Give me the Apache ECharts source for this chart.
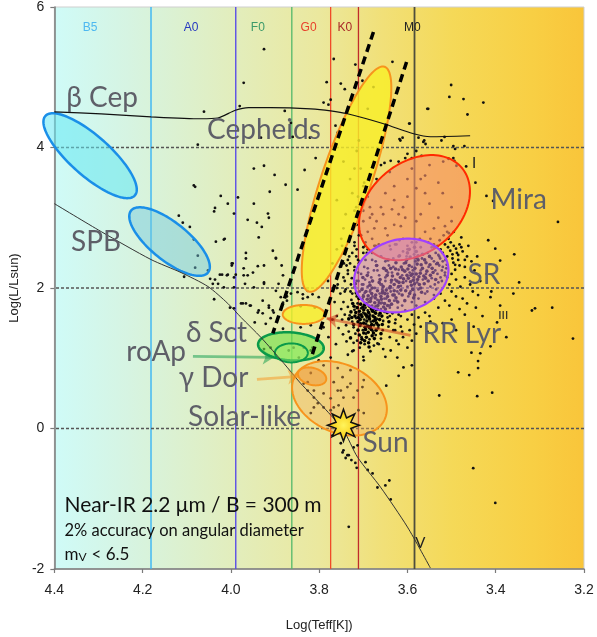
<!DOCTYPE html>
<html><head><meta charset="utf-8">
<script src="https://cdn.jsdelivr.net/npm/echarts/dist/echarts.min.js"></script>
<style>html,body{margin:0;padding:0;background:#fff}#c{width:597px;height:637px}</style>
</head><body><div id="c"></div>
<script>
// ---------------- data ----------------
const xTicks = [3.2, 3.4, 3.6, 3.8, 4.0, 4.2, 4.4];
const yTicks = [-2, 0, 2, 4, 6];
const spectralClasses = ['B5','A0','F0','G0','K0','M0'];
const spectralLabelT = [4.319, 4.090, 3.939, 3.824, 3.742, 3.589];
const spectralLabelL = 5.70;
const spectralLineT = [4.181, 3.989, 3.862, 3.774, 3.711, 3.584];
const guideL = [4, 2, 0];

const upperCurveT = [4.4, 4.294, 4.181, 4.068, 4.030, 3.990, 3.960, 3.910, 3.819, 3.774, 3.736, 3.654, 3.586, 3.548, 3.458];
const upperCurveL = [4.508, 4.480, 4.437, 4.409, 4.420, 4.530, 4.568, 4.568, 4.551, 4.522, 4.480, 4.338, 4.196, 4.153, 4.167];
const zamsT = [4.4, 4.294, 4.181, 4.113, 4.052, 4.007, 3.977, 3.932, 3.880, 3.842, 3.790, 3.745, 3.713, 3.661, 3.600, 3.548];
const zamsL = [3.201, 2.803, 2.405, 2.220, 2.021, 1.780, 1.581, 1.297, 0.927, 0.643, 0.302, -0.025, -0.409, -0.835, -1.403, -1.986];

const stripBlueEdge = [[3.677, 5.645], [3.905, 1.354]];
const stripRedEdge = [[3.602, 5.218], [3.817, 1.027]];

// ellipses: [centre logT, centre logL, semi-major (logT units), semi-minor (logT units), tilt deg]
const ellipseNames = ['Cepheids','betaCep','SPB','Mira','SR','RRLyr','SolarLike','gammaDor','deltaSct','roAp'];
const ellipseCenterT = [3.738, 4.319, 4.139, 3.584, 3.614, 3.835, 3.754, 3.816, 3.864, 3.863];
const ellipseCenterL = [3.549, 3.883, 2.661, 3.144, 2.178, 1.624, 0.430, 0.742, 1.169, 1.076];
const ellipseMajor = [0.2689, 0.1356, 0.1119, 0.1401, 0.1085, 0.0475, 0.1130, 0.0328, 0.0746, 0.0373];
const ellipseMinor = [0.0565, 0.0452, 0.0429, 0.1017, 0.0814, 0.0215, 0.0768, 0.0192, 0.0316, 0.0215];
const ellipseTilt = [-71.3, 41.6, 38.8, -40, -15, 0, 25, 15, 4, 0];

const sunPos = [3.745, 0.046];

const arrowRRLyr = [[3.593, 1.325], [3.783, 1.566]];
const arrowRoAp = [[4.086, 1.027], [3.903, 1.012]];
const arrowGammaDor = [[3.941, 0.700], [3.846, 0.742]];

const regionLabels = ['β Cep','Cepheids','SPB','Mira','SR','RR Lyr','δ Sct','roAp','γ Dor','Solar-like','Sun'];
const regionLabelT = [4.373, 4.054, 4.362, 3.412, 3.464, 3.566, 4.102, 4.237, 4.118, 4.097, 3.702];
const regionLabelL = [4.707, 4.252, 2.661, 3.258, 2.192, 1.339, 1.353, 1.083, 0.714, 0.160, -0.209];

const classLabels = ['I', 'III', 'V'];
const classLabelT = [3.449, 3.383, 3.571];
const classLabelL = [3.783, 1.609, -1.63];

const notes = ['Near-IR 2.2 μm / B = 300 m', '2% accuracy on angular diameter', 'mV < 6.5'];
const noteT = [4.377, 4.377, 4.377];
const noteL = [-1.091, -1.460, -1.787];

// stars (logT, logL)
const upperFieldStars = [[3.925,5.40],[3.971,4.92],[3.980,4.59],[4.061,4.51],[3.878,4.52],[3.783,4.93],[3.767,5.26],[3.718,5.18],[3.634,5.22],[3.677,4.86],[3.790,4.64],[3.779,4.61],[3.774,4.68],[3.751,4.91],[3.742,4.83],[3.553,4.55],[3.596,4.34],[3.864,4.35],[3.808,3.85],[3.821,4.14],[3.860,4.15],[3.611,4.14],[3.600,3.91],[3.575,4.14],[3.564,4.08],[3.932,4.14],[3.763,4.31],[3.758,4.21],[3.616,4.10],
[3.501,4.89],[3.505,4.72],[3.473,4.69],[3.428,4.64],[3.464,4.47],[3.555,4.55],[3.595,4.34],[3.618,4.12],[3.562,4.10],[3.559,4.05],[3.523,4.10],[3.516,4.15],[3.496,4.02],[3.492,3.98],[3.471,4.02],[3.580,3.95],[3.568,3.88],[3.652,3.78],[3.638,3.81],[3.496,3.85],[3.494,3.81],[3.467,3.73],[3.446,3.50],[3.421,3.31],[3.406,3.24],[3.605,3.85],[3.489,3.74],[3.519,3.80],[3.507,3.84],
[3.925,3.74],[3.948,3.70],[3.901,3.61],[3.876,3.47],[3.912,3.37],[3.849,3.40],[3.833,3.68],[4.007,3.20],[3.984,3.29],[3.948,3.20],[3.993,3.06],[3.916,3.06],[3.914,3.00],[3.962,2.97],[3.941,2.93],[3.930,2.87],[4.014,2.70],[3.937,2.72],[3.966,2.50],[3.966,2.42],[3.905,2.53],[3.898,2.43],[3.996,2.35],[3.939,2.31],[3.925,2.32],[3.950,2.22],[4.009,2.18],[3.971,2.18],[3.925,2.08],[3.892,2.06],[3.948,2.01],[4.075,4.04],[4.084,3.46]];

const subgiantStars = [[3.977,1.78],[3.966,1.78],[3.957,1.75],[3.939,1.65],[3.928,1.64],[3.914,1.75],[3.905,1.68],[3.887,1.87],[3.873,1.82],[3.849,1.94],[3.837,1.91],[3.826,1.87],[3.815,1.91],[3.810,1.72],[3.842,1.74],
[4.081,3.44],[4.023,3.31],[4.036,3.14],[4.038,3.09],[4.118,3.03],[4.109,2.93],[4.093,2.87],[4.084,2.69],[4.034,2.66],[4.016,2.69],[4.075,2.46],[4.081,2.29],[4.052,2.25],[4.025,2.19],[4.007,2.19],[3.998,2.35],[4.047,2.13],[4.036,2.12],[4.029,2.06],[4.106,2.16],[3.989,2.19],[4.038,1.84],[4.002,1.72],[3.993,1.71],[4.016,2.01],[3.993,2.01],
[3.998,2.32],[3.993,2.15],[4.041,2.06],[4.020,2.19],[3.971,2.28],[3.962,2.18],[3.968,2.06],[3.925,2.06],[3.898,2.42],[3.885,2.32],[3.882,2.18],[3.898,1.96],[3.973,1.78],[3.955,1.75],[3.937,1.68],[3.928,1.82],[3.914,1.72],[3.903,1.65],[3.882,1.79],[3.873,1.88],[3.864,1.92],[3.837,1.85],[3.826,1.96],[3.801,1.87],[3.946,1.51],[3.921,1.49],[3.910,1.57],[3.882,1.42],[3.842,1.44],[3.819,1.47],[3.790,1.44],[3.779,1.30],[3.803,1.30],[3.790,1.14],[3.774,1.01],[3.801,0.97],[3.819,1.11],[3.835,1.15],[3.910,1.15],[3.925,1.13],[3.869,1.11],[3.858,1.15],[3.846,1.01],[3.815,1.15]];

const mainSequenceStars = [[3.835,0.64],[3.826,0.54],[3.812,0.44],[3.803,0.36],[3.790,0.30],[3.774,0.26],[3.756,0.33],[3.745,0.44],[3.758,0.54],[3.767,0.66],[3.747,0.73],[3.729,0.64],[3.713,0.54],[3.699,0.69],[3.729,0.83],[3.758,0.86],[3.790,0.90],[3.819,0.79],[3.826,0.66],
[3.812,0.54],[3.790,0.50],[3.774,0.43],[3.767,0.30],[3.751,0.54],[3.736,0.59],[3.722,0.44],[3.711,0.26],[3.699,0.22],[3.702,0.59],[3.668,0.50],[3.812,0.30],[3.819,0.22],
[3.770,-0.10],[3.751,-0.21],[3.745,-0.31],[3.736,-0.38],[3.740,-0.42],[3.727,-0.45],[3.718,-0.49],[3.715,-0.56],[3.695,-0.48],[3.690,-0.59],[3.713,-0.24],[3.638,-1.01],[3.668,-0.84],[3.679,-0.64],[3.650,-0.81],[3.641,-0.74],[3.747,-0.34],[3.733,-0.38],[3.722,-0.27],[3.733,-1.40],
[3.722,1.11],[3.699,0.97],[3.668,1.21],[3.638,1.11],[3.623,1.01],[3.609,0.87],[3.648,0.61],[3.620,0.75],[3.590,0.90]];

const cepheidStripStars = [[3.745,3.80],[3.730,3.55],[3.760,3.25],[3.740,3.05],[3.725,3.35],[3.745,2.85],[3.760,2.55],[3.735,2.40],[3.720,3.70],[3.710,4.10],[3.690,4.55],[3.702,4.95],[3.715,3.95],[3.750,2.70],[3.770,2.35],[3.780,2.10],[3.760,2.00],[3.705,2.75],[3.715,2.90],[3.700,3.10],[3.712,3.30],[3.698,3.50],[3.720,2.65],[3.706,3.70],[3.695,2.60],[3.716,3.15],[3.690,2.80],[3.685,3.00],[3.725,2.50],
[3.735,2.20],[3.728,2.05],[3.742,1.95],[3.720,2.30],[3.732,2.45],[3.715,2.55],[3.745,2.15],[3.725,1.92],[3.738,2.32],[3.712,2.40]];

const giantClumpStars = [[3.690,1.68],[3.695,1.72],[3.685,1.62],[3.700,1.65],[3.680,1.75],[3.692,1.58],[3.705,1.71],[3.688,1.80],[3.675,1.66],[3.698,1.55],[3.710,1.62],[3.683,1.52],[3.672,1.74],[3.702,1.84],[3.694,1.49],[3.679,1.88],[3.716,1.57],[3.665,1.61],[3.707,1.46],[3.687,1.43],[3.720,1.69],[3.668,1.83],[3.697,1.93],[3.676,1.47],[3.713,1.78],[3.660,1.70],[3.684,1.97],[3.701,1.40],[3.725,1.52],[3.669,1.56],[3.690,2.02],[3.658,1.79],[3.715,1.88],[3.679,1.39],[3.731,1.61],[3.708,1.95],[3.663,1.92],[3.694,1.35],[3.722,1.44],[3.652,1.66],[3.686,2.08],[3.674,2.00],[3.735,1.73],[3.655,1.53],[3.703,2.05],[3.718,1.35],[3.666,1.43],[3.727,1.83],[3.648,1.85],[3.696,2.12],[3.682,2.15],[3.739,1.47],[3.661,2.05],[3.711,2.10],[3.645,1.58],[3.672,1.33],[3.729,1.95],[3.657,1.98],[3.704,1.30],[3.689,2.22],[3.742,1.62],[3.650,2.10],[3.719,2.02],[3.676,2.25],[3.733,1.38],[3.640,1.72],[3.664,2.18],[3.698,2.30],[3.745,1.80],[3.638,1.95],[3.712,2.22],[3.726,2.14],[3.686,1.27],[3.656,1.40],[3.740,1.98],[3.643,1.45],[3.669,2.32],[3.714,1.25],[3.634,1.64],[3.748,1.55],[3.707,2.38],[3.680,2.40],[3.735,2.25],[3.652,2.28],[3.722,1.22],[3.630,1.82],[3.697,1.20],[3.742,2.10],[3.660,1.28],[3.750,1.70],[3.627,1.55],[3.716,2.45],[3.676,1.18],[3.746,1.34],[3.637,2.08],[3.692,2.50],[3.730,2.35],[3.644,2.22],[3.752,1.92],[3.622,1.72],[3.665,1.20],[3.708,1.15],[3.738,1.24],[3.628,1.40],[3.756,1.43],[3.684,1.10],[3.655,1.13],[3.725,1.10],[3.619,1.92],[3.640,1.30],[3.744,2.35],[3.700,2.58],[3.760,1.60],[3.672,2.60],[3.615,1.60],[3.735,1.05],[3.700,1.02],[3.650,1.02],[3.612,1.38],[3.625,1.25],[3.762,1.20],[3.770,1.55],[3.765,1.80],[3.758,2.05],[3.753,2.30],[3.748,2.60],
[3.640,1.60],[3.628,1.50],[3.615,1.45],[3.600,1.55],[3.590,1.62],[3.605,1.68],[3.575,1.58],[3.585,1.48],[3.560,1.65],[3.620,1.62],[3.632,1.40],[3.595,1.40],[3.570,1.45],[3.548,1.52],[3.610,1.30],[3.580,1.35],[3.555,1.38],[3.620,1.20],[3.600,1.15],[3.590,1.25]];

const clumpCoreStars = [[3.688,1.65],[3.693,1.61],[3.682,1.70],[3.697,1.76],[3.686,1.56],[3.678,1.60],[3.703,1.59],[3.691,1.84],[3.674,1.79],[3.709,1.67],[3.684,1.45],[3.699,1.50],[3.670,1.69],[3.712,1.52],[3.677,1.53],[3.695,1.41],[3.681,1.92],[3.706,1.77],[3.667,1.75],[3.719,1.60],[3.673,1.86],[3.700,1.88],[3.689,1.37],[3.662,1.64],[3.714,1.72],[3.680,1.32],[3.703,1.98],[3.659,1.84],[3.722,1.48],[3.670,1.50],[3.693,1.30],[3.685,2.04],[3.712,1.40],[3.654,1.73],[3.728,1.66],[3.668,1.96],[3.697,1.25],[3.675,1.28],[3.709,1.33],[3.657,1.48],[3.716,1.93],[3.664,2.08],[3.733,1.56],[3.646,1.65],[3.691,2.18],[3.679,2.10],[3.701,2.15],[3.718,2.06],[3.651,1.92],[3.636,1.77],[3.724,1.78],[3.642,1.52],[3.660,1.35],[3.729,1.29],[3.706,1.22],[3.687,1.16],[3.671,1.40],[3.683,1.85],[3.694,1.78],[3.676,1.71],[3.663,1.55],[3.707,1.55],[3.699,1.69],[3.690,1.46],[3.674,1.58],[3.705,1.62],[3.686,1.74],[3.672,1.64],[3.696,1.63],[3.681,1.48],
[3.687,1.59],[3.692,1.53],[3.679,1.67],[3.701,1.73],[3.684,1.81],[3.696,1.44],[3.673,1.54],[3.706,1.49],[3.689,1.89],[3.668,1.70],[3.711,1.58],[3.677,1.36],[3.699,1.36],[3.664,1.79],[3.717,1.65],[3.682,1.41],[3.694,1.95],[3.658,1.60],[3.721,1.74],[3.672,1.90],[3.703,1.27],[3.652,1.78],[3.726,1.58],[3.666,1.47],[3.688,1.22],[3.710,1.85],[3.650,1.70],[3.680,2.00],[3.645,1.88],[3.657,1.93],
[3.641,1.82],[3.633,1.90],[3.648,1.97],[3.626,1.86],[3.639,2.02],[3.655,2.02],[3.630,1.96],[3.645,1.75],[3.622,1.80],[3.660,1.88]];

const srStars = [[3.586,2.15],[3.595,2.22],[3.578,2.08],[3.603,2.10],[3.570,2.25],[3.590,2.30],[3.612,2.18],[3.565,2.12],[3.600,2.02],[3.582,2.38],[3.620,2.26],[3.558,2.20],[3.575,1.98],[3.608,2.35],[3.628,2.12],[3.552,2.30],[3.593,1.95],[3.635,2.22],[3.567,2.42],[3.615,2.03],[3.545,2.14],[3.642,2.32],[3.585,2.48],[3.623,1.95],[3.560,1.92],[3.650,2.15],[3.540,2.38],[3.598,1.88],[3.632,2.42],[3.575,1.85],[3.658,2.05],[3.548,2.02],[3.610,2.52],[3.668,2.25],[3.537,2.25],[3.645,1.92],[3.590,1.80],[3.672,2.38],[3.555,2.50],[3.625,1.82],[3.680,2.10],[3.530,2.08],[3.660,2.45],[3.600,2.60],[3.685,1.95],[3.528,2.45],[3.652,1.85],[3.570,2.58],[3.690,2.28],[3.540,1.90],[3.695,2.40],[3.612,1.75],[3.638,2.55],[3.700,2.05],[3.520,2.30],[3.665,1.82],[3.580,1.75],[3.705,2.20],[3.525,2.15],[3.680,2.50],[3.560,1.80],[3.710,2.35],[3.628,2.62],[3.545,2.58],[3.700,1.90],[3.515,2.22],[3.640,1.75],[3.590,2.65],[3.715,2.10],[3.553,2.65],[3.675,2.60],[3.535,1.98],[3.660,1.78],[3.618,2.68],[3.720,2.25],[3.572,2.70],[3.602,2.45],[3.588,2.25],[3.632,2.30],[3.650,2.38]];

const srCoreStars = [[3.592,2.18],[3.580,2.20],[3.598,2.14],[3.574,2.16],[3.606,2.24],[3.584,2.06],[3.596,2.32],[3.566,2.28],[3.610,2.08],[3.578,2.34],[3.616,2.15],[3.562,2.06],[3.588,1.98],[3.602,2.40],[3.622,2.20],[3.556,2.24],[3.570,2.00],[3.594,2.44],[3.630,2.05],[3.548,2.18],[3.612,1.90],[3.576,2.46],[3.638,2.28],[3.558,2.36],[3.584,1.90],[3.626,2.36],[3.544,2.28],[3.604,1.96],[3.646,2.18],[3.568,1.94],[3.618,2.46],[3.536,2.12],[3.654,2.28],[3.596,2.55],[3.550,2.45],[3.640,2.00],[3.580,2.52],[3.662,2.12],[3.532,2.35],[3.606,1.82],[3.587,2.11],[3.599,2.27],[3.571,2.21],[3.609,2.13],[3.583,2.28],[3.563,2.17],[3.614,2.30],[3.591,2.04],[3.576,2.40],[3.624,2.10],[3.553,2.10],[3.634,2.17],[3.600,2.50],[3.566,2.48],[3.644,2.40],[3.620,2.02],[3.586,1.86],[3.670,2.32],[3.542,2.22],[3.656,1.95],
[3.589,2.20],[3.577,2.12],[3.601,2.18],[3.569,2.33],[3.611,2.26],[3.593,2.09],[3.581,2.43],[3.619,2.08],[3.559,2.14],[3.627,2.27],[3.604,2.36],[3.573,2.05],[3.636,2.11],[3.549,2.33],[3.615,1.97],[3.595,1.92],[3.648,2.25],[3.561,2.40],[3.630,1.90],[3.584,2.58]];

const miraStars = [[3.62,3.05],[3.65,2.85],[3.60,3.30],[3.68,2.70],[3.58,2.95],[3.63,3.45],[3.70,2.95],[3.55,3.20],[3.66,3.15],[3.61,2.70],[3.57,3.55],[3.69,3.30],[3.64,2.60],[3.53,3.00],[3.59,3.70],[3.71,2.75],[3.56,2.80],[3.67,3.55],[3.52,3.35],[3.62,3.80],[3.60,2.55],[3.54,2.62],[3.72,3.10],[3.58,3.42],[3.66,2.45],[3.50,3.15],[3.64,3.65],[3.55,3.75],[3.69,2.55],[3.51,2.80],[3.63,2.90],[3.57,3.05],[3.67,2.95],[3.60,3.55],[3.53,3.50],[3.70,3.45],[3.61,3.15],[3.65,3.35],[3.56,3.35],[3.58,2.65],[3.68,3.05],[3.62,2.45],[3.54,2.85],[3.59,3.85],[3.66,3.75],[3.72,2.60],[3.50,2.95],[3.56,3.60],[3.63,3.25],[3.70,2.50],
[3.645,2.75],[3.675,2.85],[3.615,2.88],[3.655,3.05],[3.695,2.65],[3.625,2.62],[3.685,3.15],[3.605,3.00],[3.665,2.62],[3.635,3.12]];

const coolGiantStars = [[3.503,2.53],[3.510,2.45],[3.495,2.60],[3.515,2.62],[3.520,2.38],[3.498,2.42],[3.488,2.50],[3.525,2.55],[3.507,2.70],[3.492,2.33],[3.530,2.47],[3.512,2.28],[3.482,2.62],[3.518,2.75],[3.500,2.20],[3.535,2.34],[3.485,2.40],[3.527,2.68],[3.475,2.52],[3.510,2.15],[3.540,2.58],[3.495,2.80],[3.470,2.30],[3.522,2.10],[3.478,2.72],[3.545,2.42],[3.505,2.05],[3.490,2.12],[3.532,2.20],[3.465,2.45],[3.515,2.88],[3.548,2.70],[3.480,2.02],[3.500,1.95],[3.462,2.60],[3.538,2.05],[3.470,2.15],[3.525,1.92],[3.455,2.38],[3.490,1.88],[3.515,1.82],[3.458,2.05],[3.448,2.25],[3.475,1.85],[3.540,1.85],[3.452,1.95],[3.505,1.75],[3.465,1.78],[3.442,2.45],[3.530,1.72],[3.482,1.70],[3.555,1.95],[3.445,1.72],[3.560,2.15],[3.550,1.60],[3.470,1.62],[3.500,1.55],[3.440,1.90],[3.520,1.50],[3.435,2.10],[3.420,2.20],[3.410,1.95],[3.430,1.60],[3.450,1.45],[3.490,1.40],
[3.508,2.58],[3.498,2.48],[3.514,2.40],[3.502,2.65],[3.520,2.50],[3.490,2.56],[3.526,2.42],[3.496,2.36],[3.511,2.33],[3.485,2.47],[3.532,2.60],[3.506,2.78],[3.478,2.58],[3.522,2.25],[3.492,2.26],[3.536,2.50],[3.470,2.40],[3.515,2.18],[3.482,2.32],[3.528,2.32]];

const coolFieldStars = [[3.225,1.28],[3.455,1.08],[3.435,1.07],[3.440,0.96],[3.440,0.86],[3.485,0.80],[3.460,0.76],[3.528,0.47],[3.442,0.46],[3.408,0.51],[3.412,1.17],[3.451,-0.565],[3.401,-1.06],[3.358,2.48],[3.347,2.08],[3.259,2.94],[3.401,2.56],[3.390,2.39],[3.417,2.68],[3.318,1.68],[3.311,1.71],[3.272,1.72],[3.390,1.75],[3.412,1.87],[3.360,1.92],[3.397,1.51],[3.376,1.30]];

// ---------------- chart ----------------
const chart = echarts.init(document.getElementById('c'), null, {renderer: 'canvas'});
const AXIS_FONT = '"Liberation Sans", Arial, sans-serif';
const LABEL_FONT = 'Lato, "Open Sans", "DejaVu Sans", sans-serif';

const spectralLineColors = ['#38b4f4', '#5a4ee6', '#52b86a', '#f04a28', '#c02c2c', '#4e4e3c'];
const spectralLineWidths = [1.4, 1.4, 1.3, 1.3, 1.3, 1.8];
const spectralLabelColors = ['#4db8f0', '#2638c0', '#3c9a6a', '#e8402a', '#a82828', '#222222'];
const ellipseStyles = [
  {fill: 'rgba(248,238,40,0.82)', stroke: '#f7941d', lw: 2},
  {fill: 'rgba(100,232,242,0.55)', stroke: '#1a8fe8', lw: 2.5},
  {fill: 'rgba(110,200,225,0.45)', stroke: '#1a8fe8', lw: 2.5},
  {fill: 'rgba(245,140,105,0.62)', stroke: '#ff2a00', lw: 2},
  {fill: 'rgba(200,125,210,0.52)', stroke: '#a040ff', lw: 2.2},
  {fill: 'rgba(248,238,40,0.80)', stroke: '#f7941d', lw: 2},
  {fill: 'rgba(246,170,80,0.38)', stroke: '#f7941d', lw: 2},
  {fill: 'rgba(240,150,50,0.50)', stroke: '#f7941d', lw: 2},
  {fill: 'rgba(110,225,70,0.62)', stroke: '#0a9a4a', lw: 2.5},
  {fill: 'rgba(160,240,110,0.45)', stroke: '#0a9a4a', lw: 2}
];

const sparseStars = [].concat(upperFieldStars, subgiantStars, mainSequenceStars, cepheidStripStars,
  giantClumpStars, srStars, miraStars, coolGiantStars, coolFieldStars);
const denseStars = [].concat(clumpCoreStars, srCoreStars);

function pairs(a, b) { return a.map((v, i) => [v, b[i]]); }
const Y_MIN = yTicks[0], Y_MAX = yTicks[yTicks.length - 1];

const option = {
  animation: false,
  backgroundColor: '#fff',
  grid: {
    left: 53, right: 13, top: 6, bottom: 68, show: true,
    borderColor: '#cfcfcf', borderWidth: 1,
    backgroundColor: new echarts.graphic.LinearGradient(0, 0, 1, 0, [
      {offset: 0, color: '#cffbf8'},
      {offset: 0.14, color: '#d6f4e2'},
      {offset: 0.32, color: '#e1eec0'},
      {offset: 0.5, color: '#ebe89e'},
      {offset: 0.62, color: '#f1e078'},
      {offset: 0.75, color: '#f5d958'},
      {offset: 0.9, color: '#f8cf44'},
      {offset: 1, color: '#f9c53a'}
    ])
  },
  xAxis: {
    type: 'value', min: xTicks[0], max: xTicks[xTicks.length - 1], interval: 0.2, inverse: true,
    name: 'Log(Teff[K])', nameLocation: 'middle', nameGap: 50,
    nameTextStyle: {fontSize: 13, color: '#222', fontFamily: AXIS_FONT},
    axisLine: {show: true, onZero: false, lineStyle: {color: '#7a7a7a', width: 1.5}},
    axisTick: {show: true, length: 4, lineStyle: {color: '#7a7a7a', width: 1.2}},
    axisLabel: {fontSize: 14, color: '#222', margin: 14, fontFamily: AXIS_FONT,
      formatter: v => v.toFixed(1)},
    splitLine: {show: false}
  },
  yAxis: {
    type: 'value', min: Y_MIN, max: Y_MAX, interval: 2,
    name: 'Log(L/Lsun)', nameLocation: 'middle', nameGap: 32, nameRotate: 90,
    nameTextStyle: {fontSize: 13, color: '#222', fontFamily: AXIS_FONT},
    axisLine: {show: true, onZero: false, lineStyle: {color: '#7a7a7a', width: 1.5}},
    axisTick: {show: true, length: 4, lineStyle: {color: '#7a7a7a', width: 1.2}},
    axisLabel: {fontSize: 14, color: '#222', margin: 10, fontFamily: AXIS_FONT},
    splitLine: {show: false}
  },
  series: [
    { // spectral class boundaries
      type: 'custom', z: 1, silent: true, data: spectralLineT.map(t => [t]),
      encode: {x: 0},
      renderItem: function (params, api) {
        const i = params.dataIndex;
        const p1 = api.coord([api.value(0), Y_MIN]);
        const p2 = api.coord([api.value(0), Y_MAX]);
        return {type: 'line', shape: {x1: p1[0], y1: p1[1], x2: p2[0], y2: p2[1]},
          style: {stroke: spectralLineColors[i], lineWidth: spectralLineWidths[i]}};
      }
    },
    { // horizontal guides
      type: 'custom', z: 1, silent: true, data: guideL.map(l => [l]),
      encode: {y: 0},
      renderItem: function (params, api) {
        const l = api.value(0);
        const p1 = api.coord([xTicks[0], l]);
        const p2 = api.coord([xTicks[xTicks.length - 1], l]);
        return {type: 'line', shape: {x1: p1[0], y1: p1[1], x2: p2[0], y2: p2[1]},
          style: {stroke: '#555', lineWidth: 1.3, lineDash: [3, 2]}};
      }
    },
    {
      type: 'scatter', z: 2, silent: true, data: sparseStars,
      symbolSize: 2.8, itemStyle: {color: '#111', opacity: 1}
    },
    {
      type: 'scatter', z: 2, silent: true, data: denseStars,
      symbolSize: 3.6, itemStyle: {color: '#000', opacity: 1}
    },
    {
      type: 'custom', z: 3, silent: true,
      data: ellipseNames.map((n, i) => [ellipseCenterT[i], ellipseCenterL[i], ellipseMajor[i], ellipseMinor[i], ellipseTilt[i]]),
      renderItem: function (params, api) {
        const i = params.dataIndex;
        const c = api.coord([api.value(0), api.value(1)]);
        const a = Math.abs(api.size([api.value(2), 0])[0]);
        const b = Math.abs(api.size([api.value(3), 0])[0]);
        const ang = api.value(4) * Math.PI / 180;
        const pts = [];
        for (let k = 0; k < 120; k++) {
          const t = k / 120 * Math.PI * 2;
          const x = a * Math.cos(t), y = b * Math.sin(t);
          pts.push([c[0] + x * Math.cos(ang) - y * Math.sin(ang), c[1] + x * Math.sin(ang) + y * Math.cos(ang)]);
        }
        const s = ellipseStyles[i];
        return {type: 'polygon', shape: {points: pts}, style: {fill: s.fill, stroke: s.stroke, lineWidth: s.lw}};
      }
    },
    {
      type: 'line', z: 4, silent: true, data: pairs(upperCurveT, upperCurveL), smooth: 0.25,
      showSymbol: false, lineStyle: {color: '#111', width: 1.2}
    },
    {
      type: 'line', z: 4, silent: true, data: pairs(zamsT, zamsL), smooth: 0.25,
      showSymbol: false, lineStyle: {color: '#333', width: 1}
    },
    {
      type: 'line', z: 5, silent: true, data: stripBlueEdge, showSymbol: false,
      lineStyle: {color: '#000', width: 3.5, type: [8, 5]}
    },
    {
      type: 'line', z: 5, silent: true, data: stripRedEdge, showSymbol: false,
      lineStyle: {color: '#000', width: 3.5, type: [8, 5]}
    },
    {
      type: 'lines', coordinateSystem: 'cartesian2d', z: 6, silent: true,
      symbol: ['none', 'arrow'], symbolSize: 11,
      data: [
        {coords: arrowRRLyr, lineStyle: {color: '#c92a10', width: 2.8}},
        {coords: arrowRoAp, lineStyle: {color: '#0a9a4a', width: 2.8}},
        {coords: arrowGammaDor, lineStyle: {color: '#f7941d', width: 2.8}}
      ]
    },
    {
      type: 'custom', z: 7, silent: true, data: [sunPos],
      renderItem: function (params, api) {
        const c = api.coord([api.value(0), api.value(1)]);
        const pts = [];
        for (let k = 0; k < 16; k++) {
          const r = k % 2 === 0 ? 16 : 8;
          const t = -Math.PI / 2 + k * Math.PI / 8;
          pts.push([c[0] + r * Math.cos(t), c[1] + r * Math.sin(t)]);
        }
        return {type: 'polygon', shape: {points: pts}, style: {
          fill: {type: 'radial', x: 0.5, y: 0.5, r: 0.5, colorStops: [{offset: 0, color: '#fff45c'}, {offset: 1, color: '#f6c200'}]},
          stroke: '#111', lineWidth: 1.5}};
      }
    },
    {
      type: 'custom', z: 8, silent: true, data: pairs(regionLabelT, regionLabelL),
      renderItem: function (params, api) {
        const c = api.coord([api.value(0), api.value(1)]);
        return {type: 'text', x: c[0], y: c[1], style: {text: regionLabels[params.dataIndex],
          fill: '#5e5f68', font: '28px ' + LABEL_FONT, textAlign: 'left', textVerticalAlign: 'middle'}};
      }
    },
    {
      type: 'custom', z: 8, silent: true, data: spectralLabelT.map(t => [t, spectralLabelL]),
      renderItem: function (params, api) {
        const c = api.coord([api.value(0), api.value(1)]);
        return {type: 'text', x: c[0], y: c[1], style: {text: spectralClasses[params.dataIndex],
          fill: spectralLabelColors[params.dataIndex], font: '12px ' + AXIS_FONT, textAlign: 'center', textVerticalAlign: 'middle'}};
      }
    },
    {
      type: 'custom', z: 8, silent: true, data: pairs(classLabelT, classLabelL),
      renderItem: function (params, api) {
        const c = api.coord([api.value(0), api.value(1)]);
        const i = params.dataIndex;
        return {type: 'text', x: c[0], y: c[1], style: {text: classLabels[i],
          fill: '#222', font: (i === 1 ? '12px ' : '15px ') + LABEL_FONT, textAlign: 'center', textVerticalAlign: 'middle'}};
      }
    },
    {
      type: 'custom', z: 8, silent: true, data: pairs(noteT, noteL),
      renderItem: function (params, api) {
        const c = api.coord([api.value(0), api.value(1)]);
        const i = params.dataIndex;
        if (i < 2) {
          return {type: 'text', x: c[0], y: c[1], style: {text: notes[i], fill: '#111',
            font: (i === 0 ? '21px ' : '16.5px ') + LABEL_FONT, textAlign: 'left', textVerticalAlign: 'middle'}};
        }
        const txt = notes[i];
        return {type: 'group', children: [
          {type: 'text', x: c[0], y: c[1], style: {text: txt.charAt(0), fill: '#111', font: '17px ' + LABEL_FONT, textAlign: 'left', textVerticalAlign: 'middle'}},
          {type: 'text', x: c[0] + 14, y: c[1] + 3, style: {text: txt.charAt(1), fill: '#111', font: '12px ' + LABEL_FONT, textAlign: 'left', textVerticalAlign: 'middle'}},
          {type: 'text', x: c[0] + 27, y: c[1], style: {text: txt.slice(2).trim(), fill: '#111', font: '17px ' + LABEL_FONT, textAlign: 'left', textVerticalAlign: 'middle'}}
        ]};
      }
    }
  ]
};
chart.setOption(option);
</script></body></html>
